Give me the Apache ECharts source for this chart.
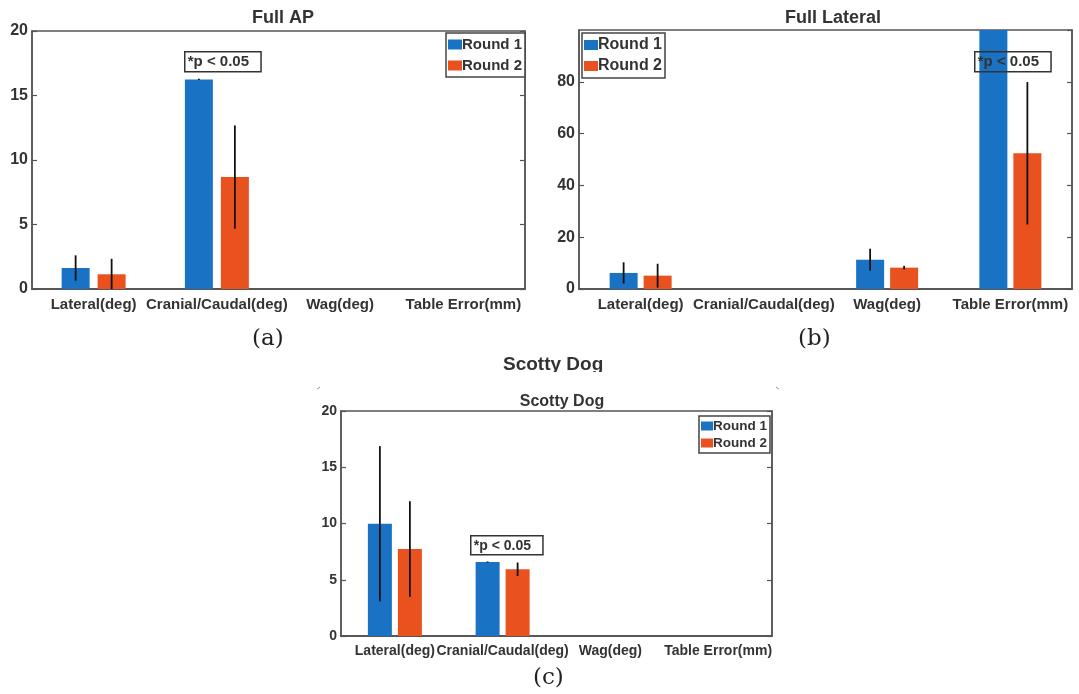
<!DOCTYPE html>
<html>
<head>
<meta charset="utf-8">
<script src="https://cdn.jsdelivr.net/npm/echarts@6/dist/echarts.min.js"></script>
<style>
  html, body { margin: 0; padding: 0; background: #fff; }
  #main { width: 1079px; height: 694px; }
</style>
</head>
<body>
<div id="main"></div>
<script>
// categories and values (mean, +/- spread)
var categories = ['Lateral(deg)', 'Cranial/Caudal(deg)', 'Wag(deg)', 'Table Error(mm)'];

var apRound1 = [1.63, 16.25, 0, 0];
var apRound1Err = [0.98, 0.05, 0, 0];
var apRound2 = [1.14, 8.68, 0, 0];
var apRound2Err = [1.2, 4.0, 0, 0];

var latRound1 = [6.2, 0, 11.3, 112];
var latRound1Err = [4.1, 0, 4.25, 8];
var latRound2 = [5.15, 0, 8.25, 52.4];
var latRound2Err = [4.6, 0, 0.7, 27.5];

var scRound1 = [9.98, 6.58, 0, 0];
var scRound1Err = [6.9, 0.05, 0, 0];
var scRound2 = [7.73, 5.93, 0, 0];
var scRound2Err = [4.25, 0.6, 0, 0];

var apTicks = { min: 0, max: 20, interval: 5 };
var latTicks = { min: 0, max: 100, interval: 20 };
var scTicks = { min: 0, max: 20, interval: 5 };

var blue = '#1a72c4';
var orange = '#e9511f';
var ink = '#333';
var frame = '#555';
var font = 'Liberation Sans, Arial, sans-serif';
var serif = 'DejaVu Serif, Liberation Serif, serif';

var chartDom = document.getElementById('main');
var myChart = echarts.init(chartDom, null, { renderer: 'canvas' });

// bar width / gap in px per panel
var barCfg = [
  { w: 28, gap: 8 },
  { w: 28, gap: 6 },
  { w: 24, gap: 6 }
];
var textSize = [15, 15, 14];

var grids = [
  { left: 32, top: 31, width: 493, height: 258 },
  { left: 579, top: 30, width: 493, height: 259 },
  { left: 341, top: 411, width: 431, height: 225 }
];

function xAxes(gi) {
  return [{
    type: 'category', gridIndex: gi, data: categories, position: 'bottom',
    axisLine: { lineStyle: { color: frame, width: 1.5 } },
    axisTick: { inside: true, alignWithLabel: true, length: 5, lineStyle: { color: frame, width: 1.2 } },
    axisLabel: { color: ink, fontWeight: 'bold', fontSize: textSize[gi], fontFamily: font, margin: 8, interval: 0 }
  }, {
    type: 'category', gridIndex: gi, data: categories, position: 'top',
    axisLine: { lineStyle: { color: frame, width: 1.5 } },
    axisTick: { inside: true, alignWithLabel: true, length: 5, lineStyle: { color: frame, width: 1.2 } },
    axisLabel: { show: false }
  }];
}

function yAxes(gi, t) {
  return [{
    type: 'value', gridIndex: gi, min: t.min, max: t.max, interval: t.interval, position: 'left',
    splitLine: { show: false },
    axisLine: { show: true, lineStyle: { color: frame, width: 1.5 } },
    axisTick: { show: true, inside: true, length: 5, lineStyle: { color: frame, width: 1.2 } },
    axisLabel: { color: ink, fontWeight: 'bold', fontSize: gi === 2 ? 14 : 16, fontFamily: font, margin: 4,
      showMaxLabel: gi !== 1 }
  }, {
    type: 'value', gridIndex: gi, min: t.min, max: t.max, interval: t.interval, position: 'right',
    splitLine: { show: false },
    axisLine: { show: true, lineStyle: { color: frame, width: 1.5 } },
    axisTick: { show: true, inside: true, length: 5, lineStyle: { color: frame, width: 1.2 } },
    axisLabel: { show: false }
  }];
}

function barSeries(gi, name, values, color) {
  return {
    type: 'bar', name: name, xAxisIndex: gi * 2, yAxisIndex: gi * 2,
    data: values, barWidth: barCfg[gi].w, barGap: (barCfg[gi].gap / barCfg[gi].w * 100) + '%',
    itemStyle: { color: color }, clip: true, silent: true
  };
}

function errSeries(gi, side, values, errs) {
  var data = values.map(function (v, i) { return [i, v - errs[i], v + errs[i], errs[i]]; });
  return {
    type: 'custom', xAxisIndex: gi * 2, yAxisIndex: gi * 2, clip: true, silent: true, z: 5,
    data: data,
    renderItem: function (params, api) {
      if (api.value(3) === 0) return;
      var off = side * (barCfg[gi].w + barCfg[gi].gap) / 2;
      var p1 = api.coord([api.value(0), api.value(1)]);
      var p2 = api.coord([api.value(0), api.value(2)]);
      return {
        type: 'line',
        shape: { x1: p1[0] + off, y1: p1[1], x2: p2[0] + off, y2: p2[1] },
        style: { stroke: '#111', lineWidth: 1.8 }
      };
    }
  };
}

function legendAt(left, top, fs, gap) {
  return {
    orient: 'vertical', left: left, top: top, data: ['Round 1', 'Round 2'],
    icon: 'rect', itemWidth: fs < 15 ? 12 : 14, itemHeight: fs < 15 ? 9 : 10,
    itemGap: gap,
    padding: fs < 15 ? [3, 3, 3, 2] : [4, 3, 4, 2], borderColor: '#444', borderWidth: 1.5, backgroundColor: '#fff',
    selectedMode: false,
    textStyle: { color: ink, fontWeight: 'bold', fontSize: fs, fontFamily: font, padding: [0, 0, 0, -5] }
  };
}

function pBox(left, top, fs) {
  return {
    type: 'text', left: left, top: top, z: 10,
    style: {
      text: '*p < 0.05', fill: ink, font: 'bold ' + fs + 'px ' + font,
      borderColor: '#333', borderWidth: 1.5, padding: [3, 12, 2, 3]
    }
  };
}

option = {
  animation: false,
  backgroundColor: '#fff',
  title: [
    { text: 'Full AP', left: 278, top: 4, textAlign: 'center', textStyle: { color: ink, fontSize: 18, fontWeight: 'bold', fontFamily: font } },
    { text: 'Full Lateral', left: 828, top: 4, textAlign: 'center', textStyle: { color: ink, fontSize: 18, fontWeight: 'bold', fontFamily: font } },
    { text: 'Scotty Dog', left: 557, top: 389, textAlign: 'center', textStyle: { color: ink, fontSize: 16, fontWeight: 'bold', fontFamily: font } }
  ],
  legend: [legendAt(446, 33, 15, 6), legendAt(582, 33, 16, 5), legendAt(699, 416, 13.5, 3)],
  grid: grids.map(function (g) {
    return { left: g.left, top: g.top, width: g.width, height: g.height, show: true,
      borderColor: frame, borderWidth: 1.5, backgroundColor: 'transparent' };
  }),
  xAxis: xAxes(0).concat(xAxes(1), xAxes(2)),
  yAxis: yAxes(0, apTicks).concat(yAxes(1, latTicks), yAxes(2, scTicks)),
  series: [
    barSeries(0, 'Round 1', apRound1, blue),
    barSeries(0, 'Round 2', apRound2, orange),
    errSeries(0, -1, apRound1, apRound1Err),
    errSeries(0, 1, apRound2, apRound2Err),
    barSeries(1, 'Round 1', latRound1, blue),
    barSeries(1, 'Round 2', latRound2, orange),
    errSeries(1, -1, latRound1, latRound1Err),
    errSeries(1, 1, latRound2, latRound2Err),
    barSeries(2, 'Round 1', scRound1, blue),
    barSeries(2, 'Round 2', scRound2, orange),
    errSeries(2, -1, scRound1, scRound1Err),
    errSeries(2, 1, scRound2, scRound2Err)
  ],
  graphic: [
    pBox(184, 51, 15),
    pBox(974, 51, 15),
    pBox(470, 535, 14),
    // outer title, bottom cut off like the scanned figure
    { type: 'text', left: 503, top: 355, z: 1,
      style: { text: 'Scotty Dog', fill: ink, font: 'bold 19px ' + font } },
    { type: 'rect', left: 480, top: 372, z: 2, shape: { width: 150, height: 12 }, style: { fill: '#fff' } },
    { type: 'line', z: 3, shape: { x1: 317, y1: 389, x2: 320, y2: 387 }, style: { stroke: '#999', lineWidth: 1 } },
    { type: 'line', z: 3, shape: { x1: 776, y1: 387, x2: 779, y2: 389 }, style: { stroke: '#999', lineWidth: 1 } },
    { type: 'text', left: 252, top: 328, style: { text: '(a)', fill: '#222', font: '23px ' + serif } },
    { type: 'text', left: 798, top: 328, style: { text: '(b)', fill: '#222', font: '23px ' + serif } },
    { type: 'text', left: 533, top: 667, style: { text: '(c)', fill: '#222', font: '23px ' + serif } }
  ]
};

option && myChart.setOption(option);
</script>
</body>
</html>
